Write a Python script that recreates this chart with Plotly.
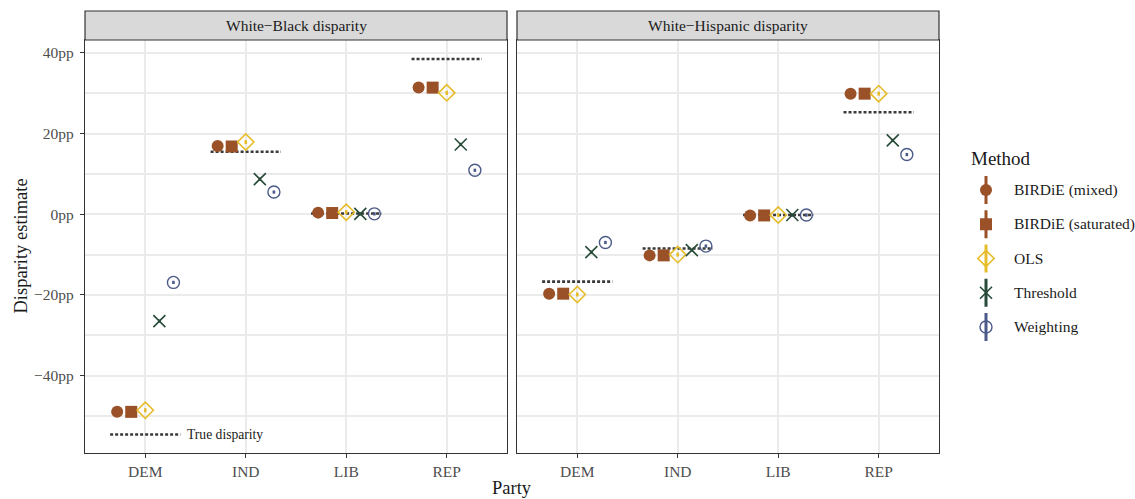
import plotly.graph_objects as go

# Categories and methods
parties = ["DEM", "IND", "LIB", "REP"]
methods = ["BIRDiE (mixed)", "BIRDiE (saturated)", "OLS", "Threshold", "Weighting"]
facets = ["White\u2212Black disparity", "White\u2212Hispanic disparity"]

# Disparity estimates (percentage points), one list per method, ordered by party
wb_birdie_mixed = [-49.0, 16.9, 0.4, 31.4]
wb_birdie_sat = [-49.0, 16.8, 0.3, 31.4]
wb_ols = [-48.6, 17.9, 0.5, 30.1]
wb_threshold = [-26.5, 8.7, 0.1, 17.3]
wb_weighting = [-16.9, 5.5, 0.1, 10.9]
wb_true = [-54.6, 15.5, 0.2, 38.5]

wh_birdie_mixed = [-19.7, -10.2, -0.3, 29.9]
wh_birdie_sat = [-19.7, -10.2, -0.3, 29.9]
wh_ols = [-19.9, -10.0, -0.2, 29.9]
wh_threshold = [-9.4, -8.9, -0.2, 18.3]
wh_weighting = [-7.0, -7.9, -0.2, 14.8]
wh_true = [-16.7, -8.5, -0.2, 25.3]

# Half-width of the interval drawn through each estimate
interval_half = [0.4, 0.4, 0.5, 0.4, 0.4]

y_ticks = [40, 20, 0, -20, -40]
y_tick_labels = ["40pp", "20pp", "0pp", "\u221220pp", "\u221240pp"]
y_minor = [30, 10, -10, -30, -50]

estimates = [
    [wb_birdie_mixed, wb_birdie_sat, wb_ols, wb_threshold, wb_weighting],
    [wh_birdie_mixed, wh_birdie_sat, wh_ols, wh_threshold, wh_weighting],
]
truths = [wb_true, wh_true]

colors = ["#9A5128", "#9A5128", "#E6BC2A", "#274B38", "#4B5A88"]
symbols = ["circle", "square", "diamond-open", "x-thin-open", "circle-open"]
sizes = [12, 12, 12.5, 12, 12]
line_widths = [0, 0, 1.6, 1.6, 1.4]

FONT = "Liberation Serif, Times New Roman, serif"
TXT = "#1A1A1A"
TICK_TXT = "#4D4D4D"
GRID = "#EBEBEB"
dodge = 0.14
half_seg = 0.35


def marker_style(m):
    return dict(symbol=symbols[m], size=sizes[m], color=colors[m], opacity=1,
                line=dict(color=colors[m], width=line_widths[m]))


fig = go.Figure()

for f in range(2):
    xa = "x" if f == 0 else "x2"
    ya = "y" if f == 0 else "y2"
    # true disparity segments
    sx, sy = [], []
    for i, v in enumerate(truths[f]):
        sx += [i + 1 - half_seg, i + 1 + half_seg, None]
        sy += [v, v, None]
    fig.add_trace(go.Scatter(
        x=sx, y=sy, mode="lines", xaxis=xa, yaxis=ya, showlegend=False,
        line=dict(color="#3A3A3A", width=2.6, dash="3px,2px"), hoverinfo="skip"))
    for m, name in enumerate(methods):
        xs = [i + 1 + (m - 2) * dodge for i in range(len(parties))]
        fig.add_trace(go.Scatter(
            x=xs, y=estimates[f][m], mode="markers", name=name,
            xaxis=xa, yaxis=ya, showlegend=False,
            marker=marker_style(m),
            error_y=dict(type="constant", value=interval_half[m], color=colors[m],
                         thickness=2.6, width=0),
        ))

# Legend keys: one row per method on a dedicated axis, with a vertical interval bar
for m in range(len(methods)):
    fig.add_trace(go.Scatter(
        x=[0], y=[m], mode="markers", xaxis="x3", yaxis="y3", showlegend=False,
        hoverinfo="skip", marker=dict(size=0.1, color=colors[m], opacity=0),
        error_y=dict(type="constant", value=0.41, color=colors[m], thickness=3, width=0),
    ))
# markers drawn on top of the bars
for m in range(len(methods)):
    fig.add_trace(go.Scatter(
        x=[0], y=[m], mode="markers", xaxis="x3", yaxis="y3", showlegend=False,
        hoverinfo="skip", marker=marker_style(m),
    ))

y_range = [-59.2, 43.2]
x_range = [0.4, 4.6]
y0, y1 = 0.0922, 0.9198
strip_top = 0.978
doms = [[0.0749, 0.4467], [0.4555, 0.8273]]

axis_common = dict(
    showgrid=True, gridcolor=GRID, gridwidth=1.6, zeroline=False,
    showline=True, mirror=True, linecolor="#333333", linewidth=1.2,
    ticks="outside", ticklen=4, tickcolor="#333333", tickwidth=1.3,
    tickfont=dict(family=FONT, size=15.5, color=TICK_TXT),
)

layout = dict(
    width=1135, height=499, margin=dict(l=0, r=0, t=0, b=0),
    paper_bgcolor="white", plot_bgcolor="white",
    font=dict(family=FONT, color=TXT),
    showlegend=False,
)

for f in range(2):
    xk = "xaxis" if f == 0 else "xaxis2"
    yk = "yaxis" if f == 0 else "yaxis2"
    layout[xk] = dict(axis_common, domain=doms[f], range=x_range,
                      tickvals=[1, 2, 3, 4], ticktext=parties,
                      anchor="y" if f == 0 else "y2")
    ydict = dict(axis_common, domain=[y0, y1], range=y_range,
                 tickvals=y_ticks, ticktext=y_tick_labels, ticklabelstandoff=3,
                 minor=dict(tickvals=y_minor, showgrid=True, gridcolor=GRID,
                            gridwidth=1.6, ticks=""),
                 anchor="x" if f == 0 else "x2")
    if f == 1:
        ydict["showticklabels"] = False
        ydict["ticks"] = ""
        ydict["matches"] = "y"
    layout[yk] = ydict

# legend key axis
legend_rows = len(methods)
row_px = 34.25
first_row_px = 190
top_px = first_row_px - row_px / 2
bot_px = first_row_px + row_px * (legend_rows - 0.5)
layout["xaxis3"] = dict(domain=[972 / 1135, 1000 / 1135], range=[-1, 1], visible=False,
                        fixedrange=True)
layout["yaxis3"] = dict(domain=[1 - bot_px / 499, 1 - top_px / 499],
                        range=[legend_rows - 0.5, -0.5], visible=False, fixedrange=True,
                        anchor="x3")

fig.update_layout(**layout)

shapes = []
annotations = []
for f in range(2):
    xa = "x" if f == 0 else "x2"
    ya = "y" if f == 0 else "y2"
    # zero reference line
    shapes.append(dict(type="line", xref=f"{xa} domain", yref=ya, x0=0, x1=1, y0=0, y1=0,
                       line=dict(color="#555555", width=1.6), layer="below"))
    # facet strip
    shapes.append(dict(type="rect", xref="paper", yref="paper",
                       x0=doms[f][0], x1=doms[f][1], y0=y1, y1=strip_top,
                       fillcolor="#D9D9D9", line=dict(color="#333333", width=1.2)))
    annotations.append(dict(text=facets[f], xref="paper", yref="paper",
                            x=(doms[f][0] + doms[f][1]) / 2, y=(y1 + strip_top) / 2,
                            xanchor="center", yanchor="middle", showarrow=False,
                            font=dict(family=FONT, size=15.5, color=TXT)))

for m, name in enumerate(methods):
    annotations.append(dict(text=name, xref="paper", yref="y3", x=1012 / 1135, y=m,
                            xanchor="left", yanchor="middle", showarrow=False,
                            font=dict(family=FONT, size=15.5, color=TXT)))

annotations.append(dict(text="True disparity", xref="x", yref="y", x=1.395, y=wb_true[0],
                        xanchor="left", yanchor="middle", showarrow=False,
                        font=dict(family=FONT, size=13.6, color=TXT)))
annotations.append(dict(text="Disparity estimate", xref="paper", yref="paper",
                        x=21 / 1135, y=(y0 + y1) / 2, xanchor="center", yanchor="middle",
                        textangle=-90, showarrow=False,
                        font=dict(family=FONT, size=18.5, color=TXT)))
annotations.append(dict(text="Party", xref="paper", yref="paper",
                        x=(doms[0][0] + doms[1][1]) / 2, y=1 - 488 / 499,
                        xanchor="center", yanchor="middle", showarrow=False,
                        font=dict(family=FONT, size=18.5, color=TXT)))
annotations.append(dict(text="Method", xref="paper", yref="paper",
                        x=969 / 1135, y=1 - 158 / 499, xanchor="left", yanchor="middle",
                        showarrow=False, font=dict(family=FONT, size=19, color=TXT)))

fig.update_layout(shapes=shapes, annotations=annotations)

fig.write_html("out.html")
